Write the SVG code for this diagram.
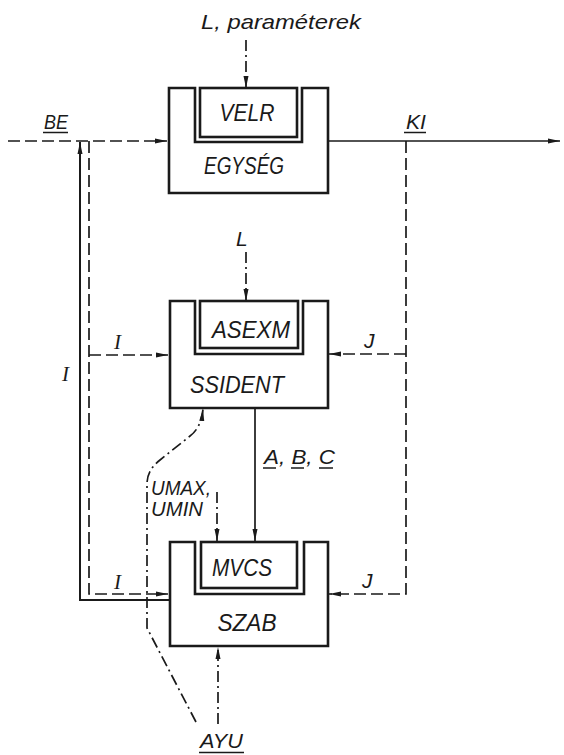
<svg xmlns="http://www.w3.org/2000/svg" width="564" height="755" viewBox="0 0 564 755">
<defs>
<marker id="ah" markerUnits="userSpaceOnUse" markerWidth="13" markerHeight="7" refX="12" refY="3.5" orient="auto">
<path d="M0,1 L12,3.5 L0,6 Z" fill="#1a1a1a"/>
</marker>
</defs>
<style>
.box{fill:none;stroke:#1a1a1a;stroke-width:2.6;stroke-linejoin:miter}
.ln{fill:none;stroke:#1a1a1a;stroke-width:1.7}
.dash{stroke-dasharray:12 5}
.dd{stroke-dasharray:11 4 2 4}
.t{font-family:"Liberation Sans",Arial,sans-serif;font-style:italic;fill:#1a1a1a}
.big{font-size:23px}
.mid{font-size:21px}
.ser{font-family:"Liberation Serif","Times New Roman",serif;font-style:italic;font-size:21px;fill:#1a1a1a}
.ul{stroke:#1a1a1a;stroke-width:1.5}
</style>
<rect width="564" height="755" fill="#ffffff"/>

<g id="connectors">
<path class="ln dash" d="M8,141 H167" marker-end="url(#ah)"/>
<path class="ln" d="M328,141 H560" marker-end="url(#ah)"/>
<path class="ln dd" d="M246,40 V88" marker-end="url(#ah)"/>
<path class="ln dd" d="M246,252 V301" marker-end="url(#ah)"/>
<path class="ln" style="stroke-width:2" d="M169,600 H80 V142" marker-end="url(#ah)"/>
<path class="ln dash" d="M89,141 V594 H168" marker-end="url(#ah)"/>
<path class="ln dash" d="M89,355 H168" marker-end="url(#ah)"/>
<path class="ln dash" d="M406,141 V594 H329" marker-end="url(#ah)"/>
<path class="ln dash" d="M406,354 H329" marker-end="url(#ah)"/>
<path class="ln" d="M255,408 V541" marker-end="url(#ah)"/>
<path class="ln dd" d="M217,492 V541" marker-end="url(#ah)"/>
<path class="ln dd" d="M218,724 V647" marker-end="url(#ah)"/>
<path class="ln dd" d="M196,722 L147,628 V484 Q147,470 160,460 L190,436 Q201,428 203,409" marker-end="url(#ah)"/>
</g>

<g id="egyseg">
<path class="box" d="M169,88 H195 V142 H302 V88 H328 V193 H169 Z"/>
<rect class="box" x="200" y="88" width="97" height="49"/>
<text class="t big" x="247" y="121" text-anchor="middle" textLength="55" lengthAdjust="spacingAndGlyphs">VELR</text>
<text class="t big" x="244" y="174" text-anchor="middle" textLength="80" lengthAdjust="spacingAndGlyphs">EGYSÉG</text>
</g>

<g id="ssident">
<path class="box" d="M170,301 H195 V354 H303 V301 H328 V408 H170 Z"/>
<rect class="box" x="200" y="301" width="98" height="47"/>
<text class="t big" x="251" y="338" text-anchor="middle" textLength="78" lengthAdjust="spacingAndGlyphs">ASEXM</text>
<text class="t big" x="237" y="393" text-anchor="middle" textLength="94" lengthAdjust="spacingAndGlyphs">SSIDENT</text>
</g>

<g id="szab">
<path class="box" d="M170,542 H195 V594 H304 V542 H328 V646 H170 Z"/>
<rect class="box" x="201" y="542" width="96" height="46"/>
<text class="t big" x="242" y="576" text-anchor="middle" textLength="60" lengthAdjust="spacingAndGlyphs">MVCS</text>
<text class="t big" x="247" y="631" text-anchor="middle" textLength="59" lengthAdjust="spacingAndGlyphs">SZAB</text>
</g>

<g id="labels">
<text class="t mid" x="201" y="29" textLength="160" lengthAdjust="spacingAndGlyphs">L, paraméterek</text>
<text class="t mid" x="44" y="129" textLength="24" lengthAdjust="spacingAndGlyphs">BE</text>
<line class="ul" x1="43" y1="132.5" x2="68" y2="132.5"/>
<text class="t mid" x="406" y="129" textLength="20" lengthAdjust="spacingAndGlyphs">KI</text>
<line class="ul" x1="404" y1="132.5" x2="426" y2="132.5"/>
<text class="t mid" x="236" y="246">L</text>
<text class="ser" x="62" y="381">I</text>
<text class="ser" x="114" y="349">I</text>
<text class="t mid" x="364" y="348">J</text>
<text class="t mid" x="264" y="464" textLength="71" lengthAdjust="spacingAndGlyphs">A, B, C</text>
<line class="ul" x1="263" y1="468" x2="276" y2="468"/>
<line class="ul" x1="291" y1="468" x2="304" y2="468"/>
<line class="ul" x1="319" y1="468" x2="333" y2="468"/>
<text class="t mid" x="151" y="495" textLength="60" lengthAdjust="spacingAndGlyphs">UMAX,</text>
<text class="t mid" x="151" y="516" textLength="52" lengthAdjust="spacingAndGlyphs">UMIN</text>
<text class="ser" x="114" y="589">I</text>
<text class="t mid" x="362" y="588">J</text>
<text class="t mid" x="200" y="748" textLength="43" lengthAdjust="spacingAndGlyphs">AYU</text>
<line class="ul" x1="199" y1="752.5" x2="244" y2="752.5"/>
</g>
</svg>
